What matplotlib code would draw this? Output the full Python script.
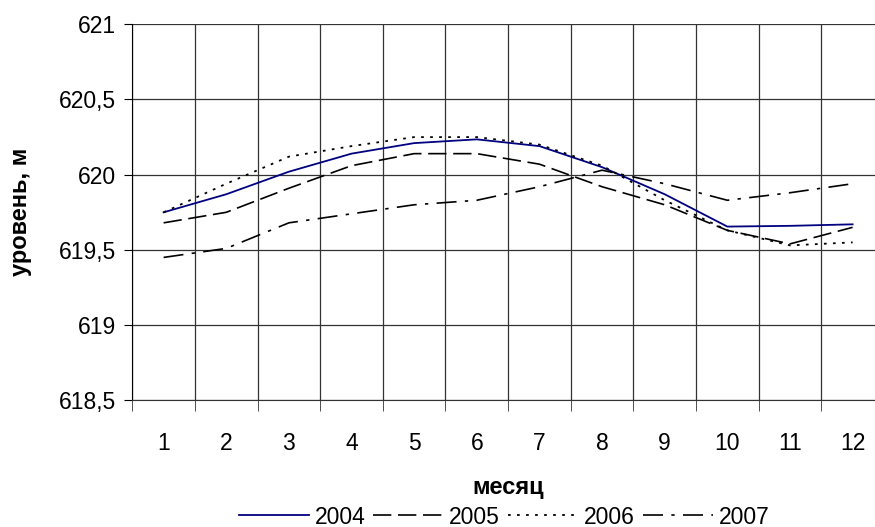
import matplotlib
matplotlib.use('Agg')
import matplotlib.pyplot as plt
import numpy as np

plt.rcParams['font.family'] = ['Liberation Sans', 'DejaVu Sans']

# data
months = [1, 2, 3, 4, 5, 6, 7, 8, 9, 10, 11, 12]
lvl_2004 = [619.75, 619.87, 620.02, 620.14, 620.21, 620.235, 620.19, 620.05, 619.87, 619.655, 619.66, 619.67]
lvl_2005 = [619.68, 619.75, 619.91, 620.06, 620.14, 620.14, 620.07, 619.92, 619.80, 619.63, 619.54, 619.65]
lvl_2006 = [619.75, 619.94, 620.12, 620.19, 620.25, 620.25, 620.20, 620.06, 619.83, 619.63, 619.53, 619.55]
lvl_2007 = [619.45, 619.51, 619.68, 619.74, 619.80, 619.83, 619.92, 620.03, 619.94, 619.83, 619.88, 619.94]
y_ticks = [618.5, 619, 619.5, 620, 620.5, 621]
y_labels = ['618,5', '619', '619,5', '620', '620,5', '621']

fig = plt.figure(figsize=(8.75, 5.27), dpi=100)
ax = fig.add_axes([0.1512, 0.2404, 0.859, 0.7135])

ax.plot(months, lvl_2004, color='#000080', lw=1.3, label='2004')
ax.plot(months, lvl_2005, color='black', lw=1.2, dashes=(11, 4), label='2005')
ax.plot(months, lvl_2006, color='black', lw=1.3, dashes=(1.5, 3.5), label='2006')
ax.plot(months, lvl_2007, color='black', lw=1.2, dashes=(12, 5, 2, 5), label='2007')

ax.set_xlim(0.5, 12.5)
ax.set_ylim(618.5, 621)

# category axis: labels at centres, ticks/grid at boundaries
ax.set_xticks(months)
ax.set_xticklabels([str(m) for m in months], fontsize=16.5)
ax.set_xticks(np.arange(0.5, 12.6, 1), minor=True)
ax.tick_params(axis='x', which='major', length=0, pad=23)
ax.tick_params(axis='x', which='minor', length=8, direction='out', color='#333333')

ax.set_yticks(y_ticks)
ax.set_yticklabels(y_labels, fontsize=16.5)
ax.tick_params(axis='y', length=6, direction='out', pad=6)

ax.grid(True, which='minor', axis='x', color='#333333', lw=0.9)
ax.grid(True, which='major', axis='y', color='#333333', lw=0.9)
ax.set_axisbelow(True)

for s in ['top', 'right']:
    ax.spines[s].set_visible(False)
ax.spines['left'].set_color('black')
ax.spines['bottom'].set_color('#333333')

ax.set_xlabel('месяц', fontsize=17, fontweight='bold', va='center')
ax.xaxis.set_label_coords(0.5, -0.233)
ax.set_ylabel('уровень, м', fontsize=17, fontweight='bold', va='center')
ax.yaxis.set_label_coords(-0.149, 0.5)

fig.legend(loc='center', bbox_to_anchor=(504 / 875, 1 - 517 / 527), ncol=4, frameon=False,
           fontsize=16.5, handlelength=3.05, handletextpad=0.26, columnspacing=0.35,
           borderaxespad=0, borderpad=0)

fig.savefig('out.png', dpi=100)
